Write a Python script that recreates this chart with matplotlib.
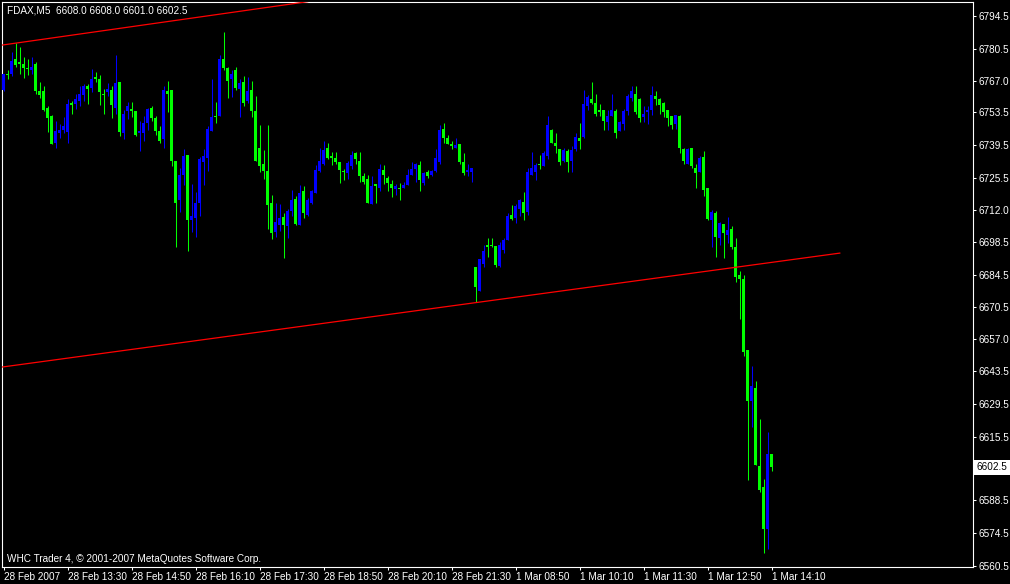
import numpy as np
import matplotlib
matplotlib.use("Agg")
import matplotlib.pyplot as plt
from matplotlib import font_manager, transforms

# ---------------- data (FDAX, M5 candles) ----------------
OPEN = [6763.0, 6770.0, 6770.0, 6776.0, 6775.0, 6774.0, 6772.5, 6771.5, 6774.0, 6762.5,
        6762.5, 6755.5, 6752.0, 6740.5, 6744.5, 6746.0, 6745.0, 6757.5, 6757.0, 6758.5,
        6761.0, 6764.5, 6764.0, 6768.5, 6767.5, 6761.5, 6762.0, 6763.0, 6755.5, 6766.5,
        6744.5, 6754.0, 6755.0, 6754.0, 6744.5, 6744.5, 6749.0, 6755.5, 6751.0, 6745.5,
        6742.0, 6762.5, 6763.0, 6733.0, 6716.0, 6727.0, 6735.5, 6707.5, 6708.5, 6715.0,
        6732.5, 6734.0, 6745.5, 6752.0, 6752.0, 6776.0, 6772.5, 6767.5, 6771.5, 6763.5,
        6766.5, 6758.5, 6763.0, 6754.0, 6738.5, 6731.5, 6728.5, 6715.0, 6702.5, 6705.5,
        6709.0, 6705.0, 6711.5, 6716.5, 6705.5, 6720.0, 6710.0, 6715.0, 6719.0, 6728.5,
        6731.5, 6738.5, 6735.0, 6734.0, 6732.5, 6728.5, 6727.5, 6730.5, 6736.0, 6733.0,
        6726.5, 6725.0, 6714.5, 6723.0, 6721.5, 6729.0, 6725.5, 6723.0, 6721.0, 6721.5,
        6721.5, 6722.5, 6727.0, 6729.5, 6731.0, 6723.5, 6728.0, 6727.0, 6728.5, 6732.5,
        6746.5, 6742.5, 6740.0, 6738.5, 6740.0, 6732.5, 6728.0, 6728.0, 6687.5, 6677.5,
        6689.0, 6697.0, 6697.0, 6696.5, 6688.0, 6695.0, 6699.0, 6710.0, 6708.5, 6712.5,
        6715.5, 6711.0, 6727.0, 6728.0, 6731.5, 6730.5, 6735.0, 6746.0, 6740.5, 6738.0,
        6733.0, 6737.0, 6733.0, 6738.0, 6742.5, 6743.0, 6756.0, 6759.0, 6757.5, 6754.5,
        6754.5, 6749.5, 6752.0, 6754.0, 6745.5, 6748.5, 6754.0, 6759.5, 6761.5, 6759.0,
        6751.5, 6753.5, 6754.5, 6760.5, 6759.0, 6757.5, 6754.5, 6752.0, 6748.5, 6752.0,
        6738.0, 6731.5, 6738.5, 6730.0, 6728.0, 6734.5, 6721.5, 6707.5, 6710.5, 6700.0,
        6706.0, 6701.5, 6704.0, 6696.0, 6684.5, 6682.5, 6652.5, 6630.5, 6636.0, 6603.0,
        6594.0, 6576.0, 6608.0]
HIGH = [6770.0, 6771.5, 6779.0, 6783.0, 6781.5, 6777.0, 6776.0, 6777.0, 6775.0, 6766.5,
        6764.5, 6756.0, 6752.5, 6750.0, 6748.5, 6751.5, 6759.0, 6758.5, 6761.5, 6764.5,
        6765.5, 6765.5, 6772.0, 6770.5, 6769.5, 6763.5, 6766.0, 6764.5, 6778.0, 6766.5,
        6754.5, 6758.0, 6758.0, 6754.0, 6750.0, 6752.0, 6755.5, 6756.0, 6752.0, 6747.5,
        6764.5, 6767.0, 6763.0, 6733.0, 6730.0, 6738.0, 6735.5, 6723.0, 6719.5, 6734.5,
        6738.0, 6747.5, 6767.5, 6758.0, 6778.0, 6787.5, 6773.0, 6771.5, 6773.0, 6767.5,
        6769.0, 6768.5, 6767.0, 6760.5, 6748.0, 6737.5, 6748.0, 6718.5, 6715.0, 6714.5,
        6710.5, 6712.5, 6720.5, 6718.0, 6722.5, 6722.0, 6717.0, 6720.5, 6731.0, 6738.5,
        6741.5, 6740.5, 6736.5, 6736.5, 6732.5, 6729.5, 6733.0, 6737.0, 6736.5, 6736.5,
        6727.5, 6727.0, 6726.5, 6723.0, 6731.5, 6731.0, 6726.5, 6724.5, 6723.0, 6723.5,
        6724.0, 6729.5, 6732.5, 6732.0, 6733.0, 6728.0, 6729.0, 6729.0, 6738.0, 6748.0,
        6749.0, 6744.0, 6741.5, 6742.5, 6740.0, 6736.0, 6731.5, 6730.0, 6687.5, 6691.0,
        6697.0, 6700.0, 6700.0, 6696.5, 6698.5, 6700.0, 6710.5, 6714.0, 6714.5, 6716.5,
        6719.5, 6730.0, 6736.5, 6732.0, 6735.5, 6737.0, 6752.0, 6746.5, 6744.5, 6738.0,
        6738.5, 6738.0, 6739.0, 6744.5, 6749.0, 6763.0, 6761.0, 6766.5, 6761.5, 6757.0,
        6754.5, 6754.5, 6761.5, 6755.0, 6750.0, 6755.0, 6761.5, 6764.5, 6764.5, 6759.5,
        6756.0, 6756.0, 6764.5, 6762.5, 6759.5, 6758.0, 6754.5, 6752.0, 6752.5, 6752.5,
        6738.5, 6738.5, 6738.5, 6731.5, 6735.0, 6737.0, 6721.5, 6712.0, 6711.5, 6707.0,
        6706.0, 6709.0, 6705.0, 6700.0, 6686.0, 6684.5, 6652.5, 6645.5, 6639.0, 6623.0,
        6597.5, 6617.5, 6608.0]
LOW = [6762.5, 6767.5, 6769.0, 6773.0, 6770.0, 6768.0, 6769.5, 6770.0, 6761.5, 6759.5,
       6754.0, 6745.0, 6740.0, 6738.5, 6742.5, 6744.5, 6740.5, 6753.0, 6755.0, 6756.0,
       6758.5, 6757.0, 6762.0, 6766.5, 6756.5, 6753.0, 6760.5, 6751.0, 6753.0, 6743.5,
       6742.0, 6750.5, 6751.5, 6743.5, 6737.0, 6741.5, 6746.0, 6750.0, 6744.0, 6740.5,
       6738.5, 6753.5, 6730.5, 6696.0, 6711.0, 6722.5, 6694.5, 6702.5, 6700.5, 6709.5,
       6722.5, 6728.5, 6745.5, 6749.0, 6752.0, 6771.5, 6759.5, 6760.0, 6763.0, 6751.5,
       6756.0, 6757.5, 6751.5, 6733.0, 6728.0, 6725.0, 6704.0, 6699.5, 6700.5, 6703.0,
       6691.5, 6700.0, 6709.5, 6705.5, 6705.5, 6708.5, 6709.5, 6714.5, 6719.0, 6728.0,
       6731.0, 6733.5, 6731.0, 6731.5, 6723.5, 6724.5, 6725.0, 6729.5, 6731.5, 6724.0,
       6723.0, 6715.0, 6714.5, 6715.0, 6720.0, 6723.0, 6720.0, 6717.5, 6718.5, 6716.0,
       6721.5, 6722.5, 6727.0, 6724.0, 6720.0, 6722.5, 6725.5, 6726.5, 6728.0, 6731.5,
       6740.5, 6740.0, 6738.0, 6738.5, 6731.5, 6727.0, 6726.5, 6724.0, 6673.0, 6677.5,
       6687.5, 6692.0, 6696.0, 6687.5, 6687.5, 6693.5, 6699.0, 6707.5, 6706.5, 6709.5,
       6707.5, 6710.0, 6727.0, 6724.5, 6729.5, 6730.5, 6733.5, 6740.5, 6736.0, 6731.0,
       6732.5, 6728.0, 6728.0, 6737.0, 6738.0, 6742.5, 6754.5, 6757.0, 6752.0, 6752.0,
       6746.0, 6746.0, 6752.0, 6742.5, 6745.5, 6746.0, 6752.5, 6758.5, 6753.0, 6749.5,
       6749.5, 6748.5, 6752.5, 6756.5, 6753.0, 6751.5, 6747.5, 6746.5, 6746.5, 6736.0,
       6731.5, 6731.5, 6730.0, 6721.5, 6728.0, 6718.0, 6707.5, 6696.0, 6692.0, 6697.0,
       6691.5, 6698.0, 6695.5, 6681.5, 6665.5, 6650.0, 6597.0, 6619.5, 6603.5, 6592.0,
       6566.0, 6567.5, 6601.0]
CLOSE = [6770.0, 6769.5, 6775.5, 6773.5, 6774.0, 6772.5, 6772.0, 6773.0, 6762.5, 6761.0,
         6754.5, 6751.0, 6740.0, 6745.5, 6746.0, 6747.5, 6757.0, 6756.5, 6759.0, 6761.5,
         6764.5, 6763.5, 6767.5, 6767.5, 6762.0, 6761.0, 6763.5, 6756.5, 6766.0, 6745.0,
         6753.0, 6756.0, 6754.0, 6744.0, 6745.5, 6749.0, 6755.0, 6751.0, 6745.5, 6741.5,
         6763.0, 6761.5, 6733.0, 6715.0, 6727.0, 6735.0, 6707.5, 6709.5, 6715.0, 6733.5,
         6735.0, 6746.5, 6751.5, 6751.5, 6776.0, 6772.5, 6767.0, 6770.0, 6764.0, 6766.0,
         6757.5, 6762.5, 6754.0, 6733.0, 6730.5, 6728.5, 6714.0, 6702.0, 6707.0, 6708.5,
         6705.5, 6711.5, 6716.0, 6706.0, 6719.0, 6710.5, 6716.0, 6720.0, 6729.0, 6733.0,
         6737.5, 6734.0, 6734.0, 6732.5, 6729.0, 6728.0, 6732.0, 6735.5, 6733.5, 6726.5,
         6724.0, 6715.0, 6722.0, 6722.0, 6729.5, 6727.0, 6723.5, 6721.5, 6722.0, 6721.0,
         6722.5, 6727.0, 6729.5, 6731.5, 6724.5, 6727.5, 6726.5, 6728.5, 6734.0, 6746.0,
         6742.5, 6740.0, 6739.0, 6739.5, 6732.5, 6727.5, 6729.0, 6730.0, 6679.0, 6691.0,
         6694.5, 6696.0, 6696.5, 6688.5, 6697.0, 6699.0, 6709.5, 6708.0, 6713.5, 6716.0,
         6710.5, 6728.0, 6730.0, 6731.0, 6731.0, 6736.0, 6748.0, 6740.5, 6739.0, 6732.5,
         6737.5, 6732.5, 6737.5, 6743.0, 6741.5, 6757.0, 6760.0, 6757.5, 6753.0, 6753.5,
         6750.0, 6752.0, 6754.5, 6744.5, 6749.5, 6754.0, 6760.5, 6762.5, 6753.5, 6751.0,
         6753.0, 6754.5, 6761.0, 6759.0, 6756.5, 6753.5, 6751.0, 6748.0, 6752.5, 6738.5,
         6733.0, 6738.0, 6730.5, 6727.5, 6734.0, 6720.5, 6708.0, 6711.0, 6700.5, 6706.5,
         6702.0, 6703.5, 6696.0, 6683.5, 6682.5, 6651.5, 6630.5, 6637.0, 6603.5, 6593.0,
         6576.0, 6608.0, 6602.5]

TIME_LABEL_BARS = [0, 16, 32, 48, 64, 80, 96, 112, 128, 144, 160, 176, 192]
TIME_LABELS = ["28 Feb 2007", "28 Feb 13:30", "28 Feb 14:50", "28 Feb 16:10",
               "28 Feb 17:30", "28 Feb 18:50", "28 Feb 20:10", "28 Feb 21:30",
               "1 Mar 08:50", "1 Mar 10:10", "1 Mar 11:30", "1 Mar 12:50", "1 Mar 14:10"]
PRICE_TICKS = [6794.5, 6780.5, 6767.0, 6753.5, 6739.5, 6725.5, 6712.0, 6698.5, 6684.5,
               6670.5, 6657.0, 6643.5, 6629.5, 6615.5, 6588.5, 6574.5, 6560.5]
LAST_PRICE = 6602.5

TREND_A_BARS = [-0.5, 76.0]
TREND_A_PRICES = [6782.1, 6800.6]
TREND_B_BARS = [-0.5, 209.0]
TREND_B_PRICES = [6645.1, 6693.6]

HEADER = "FDAX,M5  6608.0 6608.0 6601.0 6602.5"
FOOTER = "WHC Trader 4, \u00a9 2001-2007 MetaQuotes Software Corp."

# ---------------- font ----------------
def pick_font(names):
    for nm in names:
        try:
            font_manager.findfont(nm, fallback_to_default=False)
            return nm
        except Exception:
            pass
    return "DejaVu Sans"

FONT = pick_font(["Liberation Sans Narrow", "Liberation Sans", "Roboto", "DejaVu Sans"])
plt.rcParams["font.family"] = [FONT, "DejaVu Sans"]

# ---------------- figure ----------------
W, H = 1010, 584
fig = plt.figure(figsize=(W / 100, H / 100), dpi=100, facecolor="black")

# calibrate the font size so the footer spans about the same width as in the original
renderer = fig.canvas.get_renderer()
probe = fig.text(0, 0, FOOTER, fontsize=10)
probe_w = probe.get_window_extent(renderer).width
probe.remove()
FS = 10 * 256.0 / probe_w

ax = fig.add_axes([2 / W, 17 / H, 971 / W, 565 / H])
ax.set_facecolor("black")

o = np.array(OPEN); h = np.array(HIGH); l = np.array(LOW); c = np.array(CLOSE)
x = np.arange(len(o))
colors = np.where(c > o, "#0000FF", "#00FF00")

ax.vlines(x, l, h, colors=colors, linewidth=0.75, zorder=2)
body_h = np.maximum(np.abs(c - o), 0.45)
body_b = np.where(np.abs(c - o) < 0.45, (o + c) / 2 - 0.225, np.minimum(o, c))
ax.bar(x, body_h, bottom=body_b, width=0.75, color=colors, linewidth=0, zorder=3)

ax.plot(TREND_A_BARS, TREND_A_PRICES, color="#FF0000", linewidth=0.9, zorder=4)
ax.plot(TREND_B_BARS, TREND_B_PRICES, color="#FF0000", linewidth=0.9, zorder=4)

ax.set_xlim(-0.425, 242.3)
ax.set_ylim(6560.04, 6800.45)

for sp in ax.spines.values():
    sp.set_color("white")
    sp.set_linewidth(0.8)

ax.yaxis.tick_right()
ax.set_yticks(PRICE_TICKS + [LAST_PRICE])
ax.set_yticklabels([f"{v:.1f}" for v in PRICE_TICKS] + [""])
ax.tick_params(axis="y", colors="white", direction="out", length=2.5, width=0.75,
               pad=1.2, labelsize=FS)

ax.set_xticks(TIME_LABEL_BARS)
ax.set_xticklabels(TIME_LABELS)
ax.tick_params(axis="x", colors="white", direction="out", length=2.5, width=0.75,
               pad=0.8, labelsize=FS)
for lbl in ax.get_xticklabels():
    lbl.set_horizontalalignment("left")

blend = transforms.blended_transform_factory(ax.transAxes, ax.transData)
ax.annotate(f"{LAST_PRICE:.1f}", xy=(1.0, LAST_PRICE), xycoords=blend,
            xytext=(2.6, 0), textcoords="offset points", ha="left", va="center",
            color="black", fontsize=FS,
            bbox=dict(boxstyle="square,pad=0.25", fc="white", ec="none"),
            annotation_clip=False)

fig.text(7 / W, 1 - 10.5 / H, HEADER, color="white", fontsize=FS, ha="left", va="center")
fig.text(7 / W, 1 - 558.5 / H, FOOTER, color="white", fontsize=FS, ha="left", va="center")

fig.savefig("out.png", dpi=100, facecolor="black")
